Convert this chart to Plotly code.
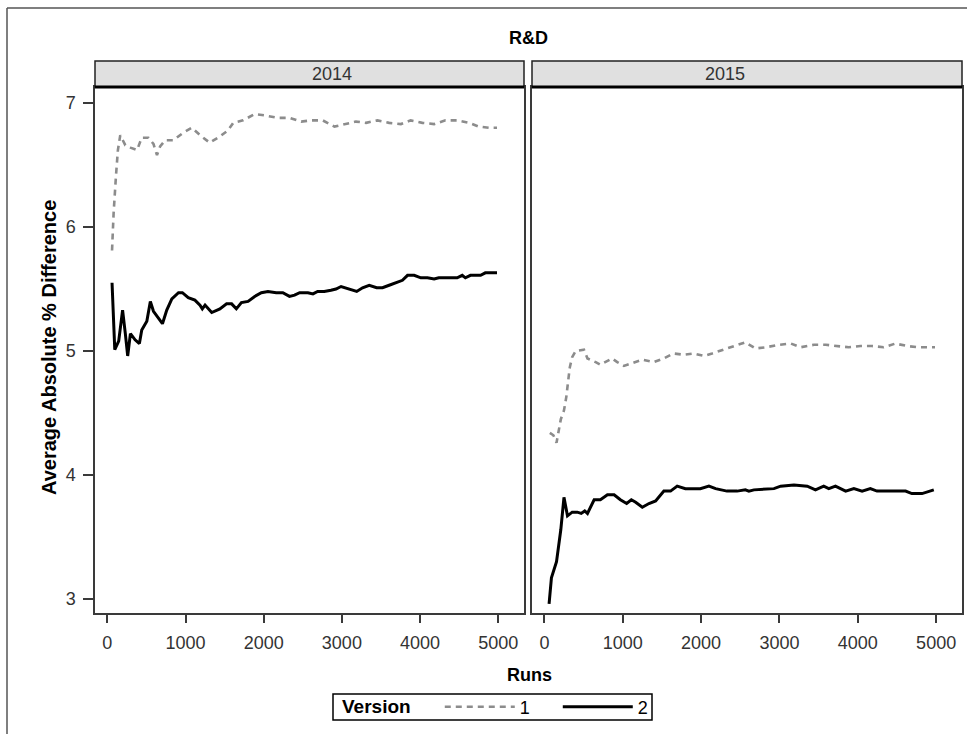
import plotly.graph_objects as go

# ---------------- data ----------------
runs_2014_v1 = [60, 80, 110, 135, 165, 230, 295, 380, 440, 525, 590, 635, 675, 740, 845,
                970, 1080, 1205, 1310, 1440, 1545, 1610, 1735, 1885, 2015, 2180, 2330, 2480,
                2605, 2755, 2905, 3030, 3180, 3310, 3455, 3605, 3755, 3880, 4030, 4180, 4325,
                4475, 4625, 4750, 4880, 4985]
diff_2014_v1 = [5.81, 6.11, 6.41, 6.62, 6.74, 6.66, 6.64, 6.62, 6.72, 6.72, 6.67, 6.58, 6.65,
                6.70, 6.70, 6.76, 6.80, 6.73, 6.68, 6.73, 6.78, 6.84, 6.86, 6.91, 6.90, 6.88,
                6.88, 6.85, 6.86, 6.86, 6.81, 6.83, 6.85, 6.84, 6.86, 6.84, 6.83, 6.86, 6.84,
                6.83, 6.86, 6.86, 6.84, 6.81, 6.80, 6.80]

runs_2014_v2 = [60, 95, 145, 195, 230, 260, 295, 355, 410, 440, 505, 550, 590, 655, 705, 760,
                825, 910, 960, 1035, 1120, 1185, 1215, 1250, 1335, 1440, 1525, 1590, 1650, 1715,
                1800, 1885, 1970, 2055, 2160, 2245, 2330, 2395, 2460, 2565, 2630, 2690, 2775,
                2860, 2925, 2990, 3095, 3190, 3265, 3350, 3445, 3520, 3605, 3690, 3775, 3840,
                3925, 4010, 4095, 4180, 4240, 4350, 4475, 4540, 4580, 4645, 4775, 4835, 4985]
diff_2014_v2 = [5.55, 5.01, 5.08, 5.33, 5.14, 4.96, 5.14, 5.09, 5.06, 5.17, 5.24, 5.40, 5.32,
                5.26, 5.22, 5.33, 5.42, 5.47, 5.47, 5.43, 5.41, 5.37, 5.34, 5.37, 5.31, 5.34,
                5.38, 5.38, 5.34, 5.39, 5.40, 5.44, 5.47, 5.48, 5.47, 5.47, 5.44, 5.45, 5.47,
                5.47, 5.46, 5.48, 5.48, 5.49, 5.50, 5.52, 5.50, 5.48, 5.51, 5.53, 5.51, 5.51,
                5.53, 5.55, 5.57, 5.61, 5.61, 5.59, 5.59, 5.58, 5.59, 5.59, 5.59, 5.61, 5.59,
                5.61, 5.61, 5.63, 5.63]

runs_2015_v1 = [70, 115, 155, 185, 210, 250, 280, 300, 325, 355, 400, 505, 550, 655, 715, 865,
                930, 1015, 1100, 1250, 1395, 1525, 1650, 1780, 1905, 2035, 2140, 2290, 2415,
                2565, 2695, 2825, 2995, 3145, 3270, 3440, 3590, 3735, 3885, 4035, 4180, 4330,
                4480, 4630, 4775, 4985]
diff_2015_v1 = [4.34, 4.32, 4.26, 4.38, 4.45, 4.52, 4.63, 4.74, 4.87, 4.95, 5.00, 5.01, 4.94,
                4.91, 4.89, 4.94, 4.91, 4.88, 4.90, 4.93, 4.91, 4.94, 4.98, 4.97, 4.98, 4.96,
                4.98, 5.01, 5.04, 5.07, 5.02, 5.03, 5.05, 5.06, 5.03, 5.05, 5.05, 5.04, 5.03,
                5.04, 5.04, 5.03, 5.06, 5.04, 5.03, 5.03]

runs_2015_v2 = [60, 90, 155, 210, 250, 295, 355, 420, 470, 515, 550, 635, 715, 805, 890, 970,
                1050, 1110, 1165, 1250, 1335, 1420, 1525, 1610, 1695, 1800, 1990, 2100, 2185,
                2270, 2330, 2460, 2565, 2610, 2675, 2930, 3015, 3185, 3355, 3460, 3565, 3630,
                3715, 3845, 3950, 4055, 4160, 4245, 4610, 4690, 4820, 4970]
diff_2015_v2 = [2.96, 3.17, 3.30, 3.56, 3.82, 3.67, 3.70, 3.70, 3.69, 3.71, 3.69, 3.80, 3.80,
                3.84, 3.84, 3.80, 3.77, 3.80, 3.78, 3.74, 3.77, 3.79, 3.87, 3.87, 3.91, 3.89,
                3.89, 3.91, 3.89, 3.88, 3.87, 3.87, 3.88, 3.87, 3.88, 3.89, 3.91, 3.92, 3.91,
                3.88, 3.91, 3.89, 3.91, 3.87, 3.89, 3.87, 3.89, 3.87, 3.87, 3.85, 3.85, 3.88]

years = ["2014", "2015"]
versions = ["1", "2"]
x_ticks = [0, 1000, 2000, 3000, 4000, 5000]
y_ticks = [3, 4, 5, 6, 7]

# ---------------- layout helpers ----------------
W, H = 967, 734
def px(x):
    return x / W
def py(y):
    return 1 - y / H

FONT = "Liberation Sans, Arial, sans-serif"
style_v1 = dict(color="#8c8c8c", width=2.6, dash="6px,5px")
style_v2 = dict(color="black", width=3)

fig = go.Figure()
fig.add_trace(go.Scatter(x=runs_2014_v1, y=diff_2014_v1, mode="lines", line=style_v1,
                         name=versions[0], legendgroup="1", xaxis="x", yaxis="y"))
fig.add_trace(go.Scatter(x=runs_2014_v2, y=diff_2014_v2, mode="lines", line=style_v2,
                         name=versions[1], legendgroup="2", xaxis="x", yaxis="y"))
fig.add_trace(go.Scatter(x=runs_2015_v1, y=diff_2015_v1, mode="lines", line=style_v1,
                         name=versions[0], legendgroup="1", showlegend=False, xaxis="x2", yaxis="y2"))
fig.add_trace(go.Scatter(x=runs_2015_v2, y=diff_2015_v2, mode="lines", line=style_v2,
                         name=versions[1], legendgroup="2", showlegend=False, xaxis="x2", yaxis="y2"))

xr = [-158, 5330]
yr = [2.887, 7.129]
axis_common = dict(showgrid=False, zeroline=False, showline=True, mirror=True,
                   linecolor="#3a3a3a", linewidth=1.5,
                   tickfont=dict(family=FONT, size=18, color="#333333"))

left_dom = [px(95), px(524)]
right_dom = [px(532), px(962)]
y_dom = [py(613), py(87)]

fig.update_layout(
    width=W, height=H,
    margin=dict(l=0, r=0, t=0, b=0),
    paper_bgcolor="white", plot_bgcolor="white",
    font=dict(family=FONT, color="black"),
    xaxis=dict(domain=left_dom, range=xr, tickvals=x_ticks, ticks="outside", ticklen=8,
               tickwidth=1.5, tickcolor="#3a3a3a", anchor="y", ticklabelstandoff=5,
               **axis_common),
    xaxis2=dict(domain=right_dom, range=xr, tickvals=x_ticks, ticks="outside", ticklen=8,
                tickwidth=1.5, tickcolor="#3a3a3a", anchor="y2", ticklabelstandoff=5,
                **axis_common),
    yaxis=dict(domain=y_dom, range=yr, tickvals=y_ticks, ticks="outside", ticklen=10,
               tickwidth=1.5, tickcolor="#3a3a3a", anchor="x", ticklabelstandoff=4,
               **axis_common),
    yaxis2=dict(domain=y_dom, range=yr, tickvals=y_ticks, ticks="", showticklabels=False,
                anchor="x2", **axis_common),
    showlegend=True,
    legend=dict(orientation="h", x=px(340), xanchor="left", y=py(707), yanchor="middle",
                borderwidth=0, bgcolor="rgba(0,0,0,0)", itemwidth=70, entrywidth=33,
                font=dict(family=FONT, size=18, color="black"),
                title=dict(text="<b>Version</b>    ", side="left",
                           font=dict(family=FONT, size=19, color="black"))),
)

shapes = []
# outer frame (top and left edges visible)
shapes.append(dict(type="line", xref="paper", yref="paper", x0=px(7), x1=1, y0=py(8), y1=py(8),
                   line=dict(color="#555555", width=1.5)))
shapes.append(dict(type="line", xref="paper", yref="paper", x0=px(7), x1=px(7), y0=py(8), y1=0,
                   line=dict(color="#555555", width=1.5)))
# legend frame
shapes.append(dict(type="rect", xref="paper", yref="paper", x0=px(333), x1=px(652),
                   y0=py(720), y1=py(694), line=dict(color="black", width=1.5)))
# panel header strips
for dom in (left_dom, right_dom):
    shapes.append(dict(type="rect", xref="paper", yref="paper", x0=dom[0], x1=dom[1],
                       y0=py(87), y1=py(61), fillcolor="#e0e0e0",
                       line=dict(color="#222222", width=1.5), layer="above"))
    shapes.append(dict(type="line", xref="paper", yref="paper", x0=dom[0], x1=dom[1],
                       y0=py(87), y1=py(87), line=dict(color="black", width=3), layer="above"))
fig.update_layout(shapes=shapes)

annotations = [
    dict(text="<b>R&D</b>", x=px(528), y=py(38), xref="paper", yref="paper", showarrow=False,
         yanchor="middle", font=dict(family=FONT, size=18, color="black")),
    dict(text="<b>Runs</b>", x=px(529), y=py(675), xref="paper", yref="paper", showarrow=False,
         yanchor="middle", font=dict(family=FONT, size=18, color="black")),
    dict(text="<b>Average Absolute % Difference</b>", x=px(36), y=py(348), xref="paper",
         yref="paper", showarrow=False, textangle=-90, yanchor="middle",
         font=dict(family=FONT, size=20, color="black")),
]
for dom, yr_label in zip((left_dom, right_dom), years):
    annotations.append(dict(text=yr_label, x=(dom[0] + dom[1]) / 2, y=py(74), xref="paper",
                            yref="paper", showarrow=False, yanchor="middle",
                            font=dict(family=FONT, size=18, color="#333333")))
fig.update_layout(annotations=annotations)

fig.write_html("out.html")
